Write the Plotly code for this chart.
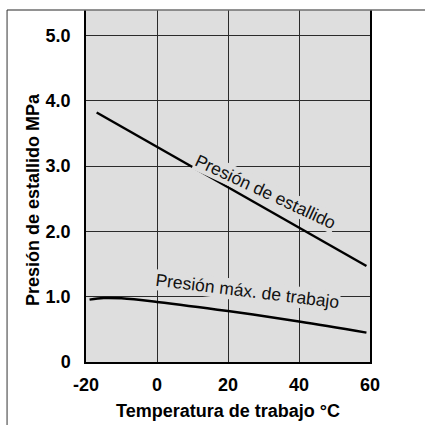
import plotly.graph_objects as go

# Data
burst_temp = [-17, 59]
burst_pressure = [3.82, 1.47]

work_temp = [-19, -15, -10, 0, 20, 40, 59]
work_pressure = [0.955, 0.98, 0.975, 0.92, 0.78, 0.62, 0.45]

x_ticks = [-20, 0, 20, 40, 60]
x_ticktext = ["-20", "0", "20", "40", "60"]
y_ticks = [0, 1, 2, 3, 4, 5]
y_ticktext = ["0", "1.0", "2.0", "3.0", "4.0", "5.0"]

BG = "#dedede"
GRID = "#2a2a2a"
FONT = "Liberation Sans, Arial, Helvetica, sans-serif"

fig = go.Figure()
fig.add_trace(go.Scatter(x=burst_temp, y=burst_pressure, mode="lines",
                         line=dict(color="#000000", width=2.5), hoverinfo="skip"))
fig.add_trace(go.Scatter(x=work_temp, y=work_pressure, mode="lines",
                         line=dict(color="#000000", width=2.5, shape="spline", smoothing=1.0),
                         hoverinfo="skip"))

fig.update_layout(
    width=425, height=425,
    margin=dict(l=86, r=55, t=10, b=63),
    paper_bgcolor="#ffffff", plot_bgcolor=BG,
    showlegend=False,
    font=dict(family=FONT, color="#000000"),
    xaxis=dict(range=[-20, 60], tickvals=x_ticks, ticktext=x_ticktext,
               showgrid=True, gridcolor=GRID, gridwidth=1.2, zeroline=False,
               showline=True, linecolor="#000000", linewidth=1.5,
               ticks="", ticklabelstandoff=6, automargin=False,
               tickfont=dict(size=18, family=FONT, weight="bold"),
               title=dict(text="Temperatura de trabajo °C", standoff=10,
                          font=dict(size=18, family=FONT, weight="bold"))),
    yaxis=dict(range=[0, 5.39], tickvals=y_ticks, ticktext=y_ticktext,
               showgrid=True, gridcolor=GRID, gridwidth=1.2, zeroline=False,
               showline=True, linecolor="#000000", linewidth=1.5, mirror=True,
               ticks="", ticklabelstandoff=10, automargin=False,
               tickfont=dict(size=18, family=FONT, weight="bold")),
    shapes=[
        dict(type="line", xref="paper", yref="paper", x0=-0.278, x1=1.2, y0=1, y1=1,
             layer="above", line=dict(color="#6e6e6e", width=1.5)),
        dict(type="line", xref="paper", yref="paper", x0=-0.278, x1=-0.278, y0=1, y1=-0.2,
             layer="above", line=dict(color="#333333", width=1)),
    ],
    annotations=[
        dict(x=-0.1866, y=0.46, xref="paper", yref="paper", text="Presión de estallido MPa",
             showarrow=False, textangle=-90, xanchor="center", yanchor="middle",
             font=dict(size=18, family=FONT, weight="bold", color="#000000")),
        dict(x=30.7, y=2.6, xref="x", yref="y", text="Presión de estallido",
             showarrow=False, textangle=25, bgcolor=BG, borderpad=0,
             font=dict(size=17.5, family=FONT, color="#111111")),
        dict(x=25.6, y=1.09, xref="x", yref="y", text="Presión máx. de trabajo",
             showarrow=False, textangle=7, bgcolor=BG, borderpad=0,
             font=dict(size=17.5, family=FONT, color="#111111")),
    ],
)

fig.write_html("out.html", config={"displayModeBar": False},
               post_script="document.body.style.margin='0';document.body.style.overflow='hidden';")
